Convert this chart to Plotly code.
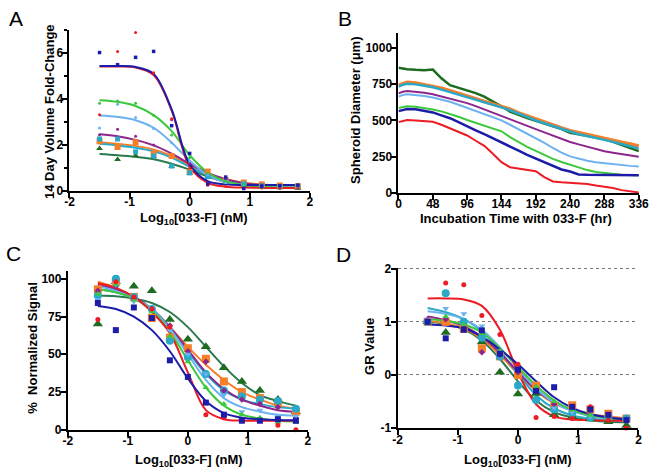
import plotly.graph_objects as go

W, H = 656, 475
FONT = "Liberation Sans, Arial, sans-serif"

# ---------------- data ----------------
conc = [-1.5, -1.2, -0.9, -0.6, -0.3, 0.0, 0.3, 0.6, 0.9, 1.2, 1.5, 1.8]
series = ["red", "blue", "green", "lightblue", "purple", "teal", "orange", "darkgreen"]

# Panel A: 14 day volume fold-change (points and fitted curve values)
a_pts = {
    "red":       [3.32, 6.08, 6.90, 5.15, 3.14, 1.00, 0.24, 0.20, 0.12, 0.12, 0.10, 0.10],
    "blue":      [6.03, 5.50, 5.82, 6.08, 2.84, 1.63, 0.30, 0.60, 0.10, 0.20, 0.22, 0.25],
    "green":     [3.82, 3.92, 3.82, 3.30, 2.43, 1.45, 0.78, 0.42, 0.22, 0.17, 0.14, 0.12],
    "lightblue": [2.74, 3.78, 3.20, 2.72, 2.10, 1.30, 0.70, 0.35, 0.22, 0.18, 0.16, 0.15],
    "purple":    [2.45, 2.68, 2.38, 2.00, 3.10, 1.20, 0.75, 0.50, 0.12, 0.25, 0.22, 0.20],
    "teal":      [2.26, 2.26, 1.70, 1.52, 1.08, 0.78, 0.62, 0.42, 0.30, 0.22, 0.18, 0.16],
    "orange":    [2.16, 1.91, 2.12, 1.62, 1.52, 0.82, 0.84, 0.46, 0.36, 0.28, 0.23, 0.20],
    "darkgreen": [1.84, 1.36, 1.53, 1.49, 1.06, 0.75, 0.60, 0.38, 0.24, 0.17, 0.13, 0.10],
}
a_fit = {
    "red":       [5.42, 5.42, 5.38, 5.05, 3.50, 1.05, 0.35, 0.18, 0.14, 0.13, 0.12, 0.12],
    "blue":      [5.44, 5.44, 5.40, 5.10, 3.55, 1.15, 0.42, 0.28, 0.25, 0.25, 0.25, 0.25],
    "green":     [3.95, 3.88, 3.70, 3.30, 2.60, 1.55, 0.80, 0.42, 0.25, 0.18, 0.15, 0.13],
    "lightblue": [3.28, 3.22, 3.08, 2.75, 2.10, 1.32, 0.68, 0.37, 0.24, 0.19, 0.17, 0.16],
    "purple":    [2.47, 2.38, 2.22, 1.98, 1.62, 1.18, 0.78, 0.50, 0.33, 0.25, 0.22, 0.20],
    "teal":      [2.05, 1.98, 1.88, 1.72, 1.45, 1.05, 0.68, 0.42, 0.28, 0.21, 0.18, 0.17],
    "orange":    [2.12, 2.05, 1.96, 1.80, 1.52, 1.12, 0.76, 0.50, 0.35, 0.28, 0.24, 0.22],
    "darkgreen": [1.60, 1.55, 1.48, 1.38, 1.18, 0.92, 0.62, 0.38, 0.24, 0.17, 0.13, 0.11],
}

# Panel B: spheroid diameter (um) over time (hr)
hours = [0, 6, 12, 24, 36, 48, 60, 72, 84, 96, 108, 120, 132, 144, 156, 168, 180, 192,
         204, 216, 228, 240, 252, 264, 276, 288, 300, 312, 324, 336]
b_diam = {
    "darkgreen": [862, 856, 852, 848, 846, 850, 790, 742, 725, 709, 688, 664, 632, 597, 560,
                  536, 516, 497, 478, 458, 440, 415, 405, 395, 385, 372, 352, 330, 308, 288],
    "orange":    [742, 755, 762, 758, 748, 738, 722, 705, 688, 668, 650, 630, 614, 597, 578,
                  552, 530, 508, 488, 468, 448, 429, 415, 402, 390, 378, 365, 350, 338, 324],
    "teal":      [732, 745, 752, 748, 738, 728, 712, 695, 678, 660, 642, 624, 606, 590, 570,
                  545, 522, 500, 480, 460, 440, 422, 405, 392, 380, 368, 352, 338, 322, 306],
    "purple":    [686, 697, 702, 698, 690, 680, 666, 650, 635, 619, 598, 575, 550, 528, 505,
                  482, 462, 440, 418, 395, 372, 351, 335, 318, 300, 288, 278, 268, 258, 250],
    "lightblue": [664, 675, 680, 676, 668, 657, 643, 628, 608, 586, 566, 545, 522, 500, 470,
                  440, 410, 380, 345, 310, 278, 252, 235, 222, 212, 205, 198, 192, 187, 183],
    "green":     [586, 594, 597, 594, 586, 575, 562, 545, 525, 503, 484, 465, 446, 425, 385,
                  350, 318, 290, 262, 235, 214, 195, 175, 158, 145, 138, 130, 126, 124, 123],
    "blue":      [564, 574, 579, 576, 566, 555, 535, 515, 488, 458, 432, 405, 378, 350, 320,
                  292, 262, 238, 210, 185, 162, 148, 128, 126, 125, 125, 124, 124, 123, 123],
    "red":       [488, 498, 503, 500, 495, 490, 470, 445, 420, 396, 360, 325, 270, 212, 178,
                  168, 160, 150, 110, 80, 74, 71, 66, 62, 52, 45, 35, 20, 10, 4],
}

# Panel C: % normalized signal
c_pts = {
    "red":       [73, 98, 88, 80, 68, 35, 10, 8, 6, 6, 3, 0],
    "blue":      [84, 66, 81, 74, 46, 35, 18, 10, 6, 6, 7, 6],
    "green":     [90, 96, 86, 78, 62, 45, 28, 17, 10, 8, 5, 5],
    "lightblue": [86, 96, 85, 80, 66, 50, 37, 23, 12, 13, 9, 9],
    "purple":    [92, 95, 87, 80, 69, 52, 45, 26, 20, 17, 15, 8],
    "teal":      [89, 100, 88, 80, 59, 48, 37, 26, 22, 20, 19, 14],
    "orange":    [93, 98, 88, 74, 61, 54, 47, 32, 25, 21, 18, 12],
    "darkgreen": [70, 98, 95, 92, 73, 60, 55, 41, 32, 26, 20, 12],
}
c_fit = {
    "red":       [97, 94, 88, 78, 64, 38, 13, 7, 6, 6, 6, 6],
    "blue":      [82, 80, 75, 66, 52, 34, 19, 11, 8, 7, 6.5, 6.3],
    "green":     [93, 91, 87, 79, 65, 46, 28, 16, 10, 7.5, 6, 5.5],
    "lightblue": [95, 92, 87, 80, 67, 50, 33, 21, 15, 12, 10, 9.5],
    "purple":    [96, 93, 88, 80, 68, 53, 38, 27, 20, 16, 13, 12],
    "teal":      [93, 91, 87, 80, 68, 52, 37, 26, 20, 17, 15, 14],
    "orange":    [98, 94, 88, 79, 68, 55, 43, 33, 25, 20, 16, 14],
    "darkgreen": [89, 88.5, 87, 84, 78, 68, 55, 42, 31, 23, 19, 16],
}

# Panel D: GR value
d_pts = {
    "red":       [1.02, 1.73, 1.70, 1.12, 0.76, 0.20, -0.80, -0.78, -0.82, -0.60, -0.85, -1.00],
    "blue":      [1.00, 0.69, 0.85, 0.84, 0.40, 0.10, -0.30, -0.23, -0.60, -0.65, -0.75, -0.85],
    "green":     [1.00, 1.10, 0.95, 0.78, 0.45, 0.10, -0.22, -0.50, -0.66, -0.76, -0.82, -0.85],
    "lightblue": [1.05, 1.25, 1.15, 0.92, 0.45, 0.10, -0.30, -0.62, -0.70, -0.78, -0.82, -0.86],
    "purple":    [1.05, 1.05, 0.90, 0.43, 0.38, 0.05, -0.30, -0.55, -0.68, -0.62, -0.80, -0.84],
    "teal":      [1.00, 1.54, 1.00, 0.70, 0.35, -0.20, -0.47, -0.65, -0.72, -0.80, -0.80, -0.82],
    "orange":    [1.00, 1.00, 0.87, 0.50, 0.35, 0.00, -0.20, -0.60, -0.57, -0.65, -0.73, -0.82],
    "darkgreen": [1.00, 0.80, 0.92, 0.62, 0.05, -0.36, -0.35, -0.75, -0.78, -0.83, -0.88, -0.95],
}
d_fit = {
    "red":       [1.44, 1.44, 1.42, 1.30, 0.85, 0.05, -0.55, -0.78, -0.84, -0.85, -0.86, -0.86],
    "blue":      [0.95, 0.93, 0.88, 0.72, 0.48, 0.20, -0.12, -0.42, -0.62, -0.74, -0.80, -0.84],
    "green":     [1.05, 1.02, 0.95, 0.80, 0.50, 0.15, -0.20, -0.48, -0.66, -0.76, -0.81, -0.84],
    "lightblue": [1.20, 1.15, 1.05, 0.85, 0.52, 0.12, -0.25, -0.52, -0.68, -0.77, -0.82, -0.85],
    "purple":    [1.10, 1.03, 0.92, 0.72, 0.42, 0.06, -0.28, -0.52, -0.67, -0.75, -0.80, -0.83],
    "teal":      [1.26, 1.18, 1.05, 0.82, 0.45, 0.02, -0.38, -0.63, -0.76, -0.82, -0.85, -0.87],
    "orange":    [1.02, 0.97, 0.88, 0.68, 0.38, 0.02, -0.30, -0.53, -0.66, -0.74, -0.78, -0.81],
    "darkgreen": [1.00, 0.96, 0.86, 0.65, 0.30, -0.12, -0.48, -0.70, -0.80, -0.85, -0.88, -0.89],
}

conc_ticks = [-2, -1, 0, 1, 2]
conc_ticktext = ["-2", "-1", "0", "1", "2"]
a_yticks = [0, 2, 4, 6]
b_xticks = [0, 48, 96, 144, 192, 240, 288, 336]
b_yticks = [0, 250, 500, 750, 1000]
c_yticks = [0, 25, 50, 75, 100]
d_yticks = [-1, 0, 1, 2]
d_ticktext = ["-1", "0", "1", "2"]

# ---------------- styles ----------------
colors = {
    "red": "#EC1C24", "blue": "#1C1CA8", "green": "#3CC83C", "lightblue": "#6CB2F0",
    "purple": "#8C268C", "teal": "#2AA8C8", "orange": "#F57F29", "darkgreen": "#1E6B22",
}
curve_colors = dict(colors, darkgreen="#2A7A4E")
sym = {"red": "circle", "blue": "square", "green": "triangle-up", "lightblue": "triangle-down",
       "purple": "diamond", "teal": "circle", "orange": "square", "darkgreen": "triangle-up"}
size_cd = {"red": 5, "blue": 6, "green": 6, "lightblue": 6, "purple": 5,
           "teal": 8, "orange": 8, "darkgreen": 9}
size_a = {"red": 3, "blue": 3.5, "green": 3, "lightblue": 3, "purple": 3,
          "teal": 5, "orange": 6, "darkgreen": 6}
sym_a = dict(sym, red="circle", green="circle", lightblue="circle", purple="circle", teal="square")
b_width = {"darkgreen": 2.5, "orange": 3.5, "teal": 2.5, "purple": 2, "lightblue": 2,
           "green": 2, "blue": 2.5, "red": 2}

draw_order = ["darkgreen", "orange", "teal", "purple", "lightblue", "green", "red", "blue"]


def px_x(p):
    return p / W


def px_y(p):
    return 1 - p / H


fig = go.Figure()


def add_dose(xa, ya, pts, fit, sizes, symbols):
    for s in draw_order:
        fig.add_trace(go.Scatter(x=conc, y=fit[s], mode="lines", xaxis=xa, yaxis=ya,
                                 line=dict(color=curve_colors[s], width=2, shape="spline",
                                           smoothing=1.0),
                                 showlegend=False, hoverinfo="skip"))
    for s in draw_order:
        fig.add_trace(go.Scatter(x=conc, y=pts[s], mode="markers", xaxis=xa, yaxis=ya,
                                 marker=dict(color=colors[s], size=sizes[s], symbol=symbols[s],
                                             line=dict(width=0)),
                                 cliponaxis=False, showlegend=False))


add_dose("x", "y", a_pts, a_fit, size_a, sym_a)
for s in draw_order:
    fig.add_trace(go.Scatter(x=hours, y=b_diam[s], mode="lines", xaxis="x2", yaxis="y2",
                             line=dict(color=colors[s], width=b_width[s]), showlegend=False))
add_dose("x3", "y3", c_pts, c_fit, size_cd, sym)
add_dose("x4", "y4", d_pts, d_fit, size_cd, sym)

tickfont = dict(family=FONT, size=12, color="black", weight="bold")
base = dict(showline=True, linecolor="black", linewidth=2, ticks="outside", ticklen=5,
            tickwidth=2, tickcolor="black", showgrid=False, zeroline=False,
            tickfont=tickfont, fixedrange=True)
xbase = dict(base, ticklabelstandoff=-6)
ybase = dict(base, ticklabelstandoff=-3)

# domains in pixels
A = dict(x0=66, x1=312, y0=25, y1=190)
B = dict(x0=402.7, x1=649.3, y0=28, y1=192.3)
C = dict(x0=64.3, x1=310, y0=272.7, y1=435.7)
D = dict(x0=401.7, x1=648.3, y0=269, y1=434)


def dom(p):
    return [px_x(p["x0"]), px_x(p["x1"])], [px_y(p["y1"]), px_y(p["y0"])]


ax, ay = dom(A)
bx, by = dom(B)
cx, cy = dom(C)
dx, dy = dom(D)

fig.update_layout(
    width=W, height=H, margin=dict(l=0, r=0, t=0, b=0),
    paper_bgcolor="white", plot_bgcolor="white",
    xaxis=dict(xbase, domain=ax, anchor="y", range=[-2, 2], tickvals=conc_ticks,
               ticktext=conc_ticktext),
    yaxis=dict(ybase, domain=ay, anchor="x", range=[0, 7], tickvals=a_yticks,
               minor=dict(ticks="outside", ticklen=3, tickwidth=2, dtick=1, tickcolor="black")),
    xaxis2=dict(xbase, domain=bx, anchor="y2", range=[0, 337], tickvals=b_xticks),
    yaxis2=dict(ybase, domain=by, anchor="x2", range=[0, 1100], tickvals=b_yticks),
    xaxis3=dict(xbase, domain=cx, anchor="y3", range=[-2, 2], tickvals=conc_ticks,
                ticktext=conc_ticktext),
    yaxis3=dict(ybase, domain=cy, anchor="x3", range=[0, 105], tickvals=c_yticks),
    xaxis4=dict(xbase, domain=dx, anchor="y4", range=[-2, 2], tickvals=conc_ticks,
                ticktext=conc_ticktext),
    yaxis4=dict(ybase, domain=dy, anchor="x4", range=[-1, 2.02], tickvals=d_yticks,
                ticktext=d_ticktext, showgrid=True, gridcolor="#777777", griddash="dot",
                gridwidth=1),
)

ann = []


def label(text, x, y, size=13, angle=0, bold=True):
    ann.append(dict(text=(f"<b>{text}</b>" if bold else text), x=px_x(x), y=px_y(y),
                    xref="paper", yref="paper", showarrow=False, textangle=angle,
                    xanchor="center", yanchor="middle",
                    font=dict(family=FONT, size=size, color="black")))


xtitle = "Log<sub>10</sub>[033-F] (nM)"
label(xtitle, 193, 218)
label("14 Day Volume Fold-Change", 45, 108, angle=-90)
label("Incubation Time with 033-F (hr)", 523, 218)
label("Spheroid Diameter (μm)", 358, 107, angle=-90)
label(xtitle, 188, 467)
label("%  Normalized Signal", 28, 352, angle=-90)
label(xtitle, 525, 467)
label("GR Value", 373, 350, angle=-90)
label("A", 11, 13, size=21, bold=False)
label("B", 348, 13, size=21, bold=False)
label("C", 9, 254, size=21, bold=False)
label("D", 346, 256, size=21, bold=False)
fig.update_layout(annotations=ann)

fig.write_html("out.html", config={"displayModeBar": False},
               post_script="document.body.style.margin='0';document.body.style.padding='0';")
